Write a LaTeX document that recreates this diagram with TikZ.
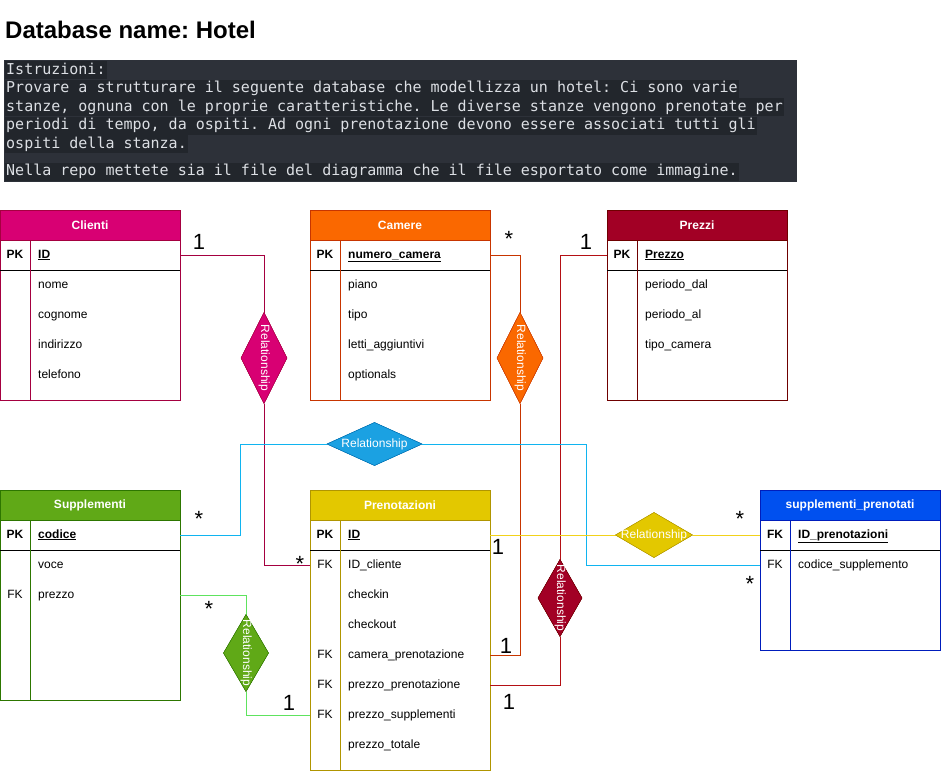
\documentclass[tikz,border=0pt]{standalone}
\usepackage{fontspec}
\setmainfont{Liberation Sans}
\newfontfamily\codefont{DejaVu Sans Mono}
\usetikzlibrary{shapes.geometric}
\frenchspacing
\definecolor{magF}{HTML}{D80073}\definecolor{magS}{HTML}{A50040}
\definecolor{oraF}{HTML}{FA6800}\definecolor{oraS}{HTML}{C73500}
\definecolor{crF}{HTML}{A20025}\definecolor{crS}{HTML}{6F0000}
\definecolor{grF}{HTML}{60A917}\definecolor{grS}{HTML}{2D7600}
\definecolor{yeF}{HTML}{E3C800}\definecolor{yeS}{HTML}{B09500}
\definecolor{blF}{HTML}{0050EF}\definecolor{blS}{HTML}{001DBC}
\definecolor{cyF}{HTML}{1BA1E2}\definecolor{cyS}{HTML}{006EAF}
\definecolor{redL}{HTML}{B40F14}
\definecolor{grL}{HTML}{5EE35E}
\definecolor{cyL}{HTML}{10B4F0}
\definecolor{yeL}{HTML}{F2D21A}
\definecolor{codebg}{HTML}{2D3139}
\definecolor{codestrip}{HTML}{22262C}
\definecolor{codetext}{HTML}{DCDFE4}
\newcommand\ertable[7]{%
  \node[draw=#6, minimum width=180, minimum height=#4, anchor=north west, inner sep=0, outer sep=0] (#1) at (#2,#3) {};
  \node[draw=#6, fill=#5, minimum width=180, minimum height=30, anchor=north west, inner sep=0, outer sep=0, text=white, font=\fontsize{12}{14}\selectfont\bfseries] (#1-h) at (#2,#3) {#7};
  \draw[black] ([yshift=-60]#1.north west) -- ([yshift=-60]#1.north east);
  \draw[#6] ([xshift=30,yshift=-30]#1.north west) -- ([xshift=30]#1.south west);
}
\begin{document}
\begin{tikzpicture}[x=1pt,y=-1pt,
  fld/.style={anchor=west, inner sep=0, font=\fontsize{12}{14}\selectfont, text height=9, text depth=3},
  keyc/.style={fld, anchor=center},
  codeline/.style={anchor=base west, fill=codestrip, inner xsep=1, inner ysep=0, text height=13, text depth=5, text=codetext, font=\codefont\fontsize{15}{18}\selectfont},
  card/.style={anchor=base, inner sep=0, font=\fontsize{22}{26}\selectfont},
  reltxt/.style={inner sep=0, text=white, font=\fontsize{12}{14}\selectfont, text height=9, text depth=3},
  rel/.style={diamond, inner sep=0, outer sep=0, draw=#1},
  conn/.style={draw=#1, line width=1pt}
]
\useasboundingbox (0,0) rectangle (941,771);
\fill[white] (0,0) rectangle (941,771);

% title
\node[anchor=base west, inner sep=0, font=\fontsize{24}{28}\selectfont\bfseries] (title) at (5,38) {Database name: Hotel};

% instructions
\node[fill=codebg, minimum width=793, minimum height=122, anchor=north west, inner sep=0] (instr) at (4,60) {};
\node[codeline] (l1) at (5,74) {Istruzioni:};
\node[codeline] (l2) at (5,92.5) {Provare a strutturare il seguente database che modellizza un hotel: Ci sono varie};
\node[codeline] (l3) at (5,111) {stanze, ognuna con le proprie caratteristiche. Le diverse stanze vengono prenotate per};
\node[codeline] (l4) at (5,129.5) {periodi di tempo, da ospiti. Ad ogni prenotazione devono essere associati tutti gli};
\node[codeline] (l5) at (5,148) {ospiti della stanza.};
\node[codeline] (l6) at (5,175.5) {Nella repo mettete sia il file del diagramma che il file esportato come immagine.};

% tables
\ertable{cli}{0}{210}{190}{magF}{magS}{Clienti}
\node[keyc] (cli-k1) at (15,255) {\bfseries PK};
\node[fld] (cli-id) at (38,255) {\bfseries\underline{ID}};
\node[fld] (cli-nome) at (38,285) {nome};
\node[fld] (cli-cog) at (38,315) {cognome};
\node[fld] (cli-ind) at (38,345) {indirizzo};
\node[fld] (cli-tel) at (38,375) {telefono};

\ertable{cam}{310}{210}{190}{oraF}{oraS}{Camere}
\node[keyc] (cam-k1) at (325,255) {\bfseries PK};
\node[fld] (cam-num) at (348,255) {\bfseries\underline{numero\_camera}};
\node[fld] (cam-piano) at (348,285) {piano};
\node[fld] (cam-tipo) at (348,315) {tipo};
\node[fld] (cam-letti) at (348,345) {letti\_aggiuntivi};
\node[fld] (cam-opt) at (348,375) {optionals};

\ertable{prz}{607}{210}{190}{crF}{crS}{Prezzi}
\node[keyc] (prz-k1) at (622,255) {\bfseries PK};
\node[fld] (prz-p) at (645,255) {\bfseries\underline{Prezzo}};
\node[fld] (prz-dal) at (645,285) {periodo\_dal};
\node[fld] (prz-al) at (645,315) {periodo\_al};
\node[fld] (prz-tipo) at (645,345) {tipo\_camera};

\ertable{sup}{0}{490}{210}{grF}{grS}{Supplementi}
\node[keyc] (sup-k1) at (15,535) {\bfseries PK};
\node[fld] (sup-cod) at (38,535) {\bfseries\underline{codice}};
\node[fld] (sup-voce) at (38,565) {voce};
\node[keyc] (sup-k3) at (15,595) {FK};
\node[fld] (sup-prezzo) at (38,595) {prezzo};

\ertable{pren}{310}{490}{280}{yeF}{yeS}{Prenotazioni}
\node[keyc] (pren-k1) at (325,535) {\bfseries PK};
\node[fld] (pren-id) at (348,535) {\bfseries\underline{ID}};
\node[keyc] (pren-k2) at (325,565) {FK};
\node[fld] (pren-idc) at (348,565) {ID\_cliente};
\node[fld] (pren-in) at (348,595) {checkin};
\node[fld] (pren-out) at (348,625) {checkout};
\node[keyc] (pren-k5) at (325,655) {FK};
\node[fld] (pren-cam) at (348,655) {camera\_prenotazione};
\node[keyc] (pren-k6) at (325,685) {FK};
\node[fld] (pren-prz) at (348,685) {prezzo\_prenotazione};
\node[keyc] (pren-k7) at (325,715) {FK};
\node[fld] (pren-sup) at (348,715) {prezzo\_supplementi};
\node[fld] (pren-tot) at (348,745) {prezzo\_totale};

\ertable{sp}{760}{490}{160}{blF}{blS}{supplementi\_prenotati}
\node[keyc] (sp-k1) at (775,535) {\bfseries FK};
\node[fld] (sp-id) at (798,535) {\bfseries\underline{ID\_prenotazioni}};
\node[keyc] (sp-k2) at (775,565) {FK};
\node[fld] (sp-cod) at (798,565) {codice\_supplemento};

% relationship diamonds (positions)
\node[rel=magS, fill=magF, minimum width=46, minimum height=91] (rel1) at (264,358) {};
\node[rel=oraS, fill=oraF, minimum width=46, minimum height=91] (rel2) at (520,358) {};
\node[rel=crS, fill=crF, minimum width=44, minimum height=77] (rel3) at (560,598) {};
\node[rel=grS, fill=grF, minimum width=45, minimum height=77] (rel4) at (246,653) {};
\node[rel=cyS, fill=cyF, minimum width=95, minimum height=43] (rel5) at (374.5,444) {};
\node[rel=yeS, fill=yeF, minimum width=77, minimum height=45] (rel6) at (654,535) {};

% connectors
\coordinate (c5l) at (240,444);
\coordinate (c5r) at (586,444);
\draw[conn=magS] (cli.east |- cli-id) -| (rel1.north);
\draw[conn=magS] (rel1.south) |- (pren.west |- pren-idc);
\draw[conn=oraS] (cam.east |- cam-num) -| (rel2.north);
\draw[conn=oraS] (rel2.south) |- (pren.east |- pren-cam);
\draw[conn=redL] (prz.west |- prz-p) -| (rel3.north);
\draw[conn=redL] (rel3.south) |- (pren.east |- pren-prz);
\draw[conn=grL] (sup.east |- sup-prezzo) -| (rel4.north);
\draw[conn=grL] (rel4.south) |- (pren.west |- pren-sup);
\draw[conn=cyL] (sup.east |- sup-cod) -| (c5l) -- (rel5.west);
\draw[conn=cyL] (rel5.east) -- (c5r) |- (sp.west |- sp-cod);
\draw[conn=yeL] (pren.east |- pren-id) -- (rel6.west);
\draw[conn=yeL] (rel6.east) -- (sp.west |- sp-id);

% redraw diamonds on top of lines
\node[rel=magS, fill=magF, minimum width=46, minimum height=91] (rel1b) at (rel1) {};
\node[rel=oraS, fill=oraF, minimum width=46, minimum height=91] (rel2b) at (rel2) {};
\node[rel=crS, fill=crF, minimum width=44, minimum height=77] (rel3b) at (rel3) {};
\node[rel=grS, fill=grF, minimum width=45, minimum height=77] (rel4b) at (rel4) {};
\node[rel=cyS, fill=cyF, minimum width=95, minimum height=43] (rel5b) at (rel5) {};
\node[rel=yeS, fill=yeF, minimum width=77, minimum height=45] (rel6b) at (rel6) {};

\node[reltxt, rotate=-90] (rel1-t) at (rel1) {Relationship};
\node[reltxt, rotate=-90] (rel2-t) at (rel2) {Relationship};
\node[reltxt, rotate=-90] (rel3-t) at (rel3) {Relationship};
\node[reltxt, rotate=-90] (rel4-t) at (rel4) {Relationship};
\node[reltxt] (rel5-t) at (rel5) {Relationship};
\node[reltxt] (rel6-t) at (rel6) {Relationship};

% cardinalities
\node[card] (n1) at (199,249) {1};
\node[card] (n2) at (509,246) {*};
\node[card] (n3) at (586,249) {1};
\node[card] (n4) at (199,526) {*};
\node[card] (n5) at (300,571) {*};
\node[card] (n6) at (209,616) {*};
\node[card] (n7) at (289,710) {1};
\node[card] (n8) at (498,554) {1};
\node[card] (n9) at (506,653) {1};
\node[card] (n10) at (509,709) {1};
\node[card] (n11) at (740,526) {*};
\node[card] (n12) at (750,591) {*};
\end{tikzpicture}
\end{document}
